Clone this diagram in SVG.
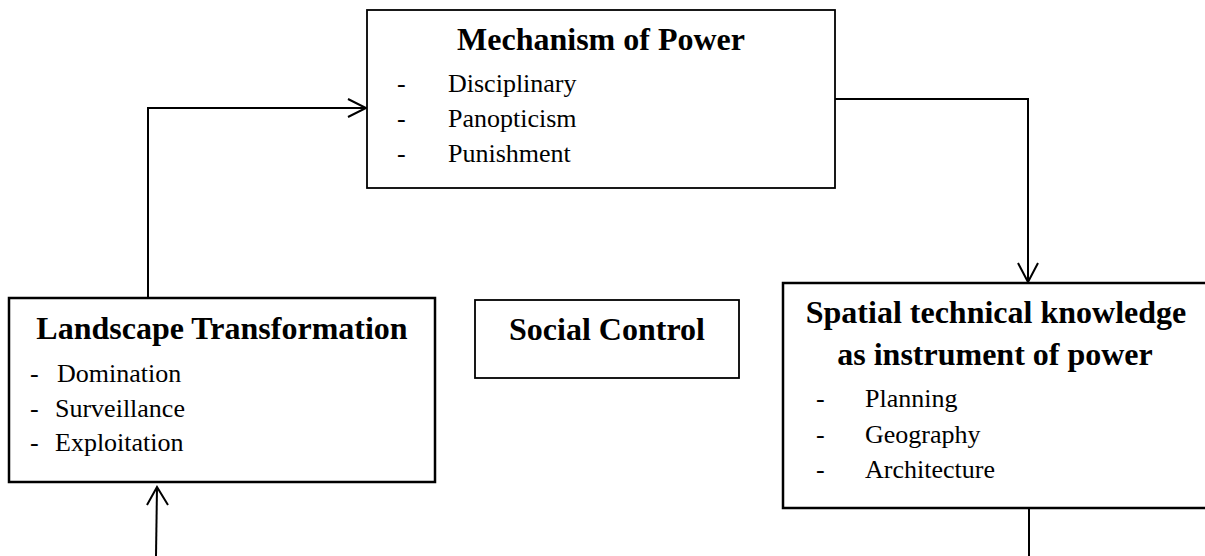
<svg xmlns="http://www.w3.org/2000/svg" width="1205" height="556" viewBox="0 0 1205 556">
<style>
.box{fill:#fff;stroke:#000;stroke-width:2}
.thick{stroke-width:2.5}
.title{font-family:"Liberation Serif","Times New Roman",serif;font-weight:bold;font-size:32px;fill:#000}
.item{font-family:"Liberation Serif","Times New Roman",serif;font-size:26px;fill:#000}
.conn{fill:none;stroke:#000;stroke-width:2}
</style>
<rect width="1205" height="556" fill="#fff"/>
<g id="connectors">
<polyline class="conn" points="148,298 148,108 366,108"/>
<polyline class="conn" points="348,99 366,108 348,117"/>
<polyline class="conn" points="835,99 1028,99 1028,282"/>
<polyline class="conn" points="1018,263 1028,282 1038,263"/>
<line class="conn" x1="156" y1="556" x2="157" y2="487"/>
<polyline class="conn" points="147,505 157,487 168,505"/>
<line class="conn" x1="1029" y1="508" x2="1029" y2="556"/>
</g>
<g id="mechanism">
<rect class="box" x="367" y="10" width="468" height="178" style="stroke-width:1.8"/>
<text class="title" x="601" y="50" text-anchor="middle">Mechanism of Power</text>
<text class="item" x="397" y="92">-</text><text class="item" x="448" y="92">Disciplinary</text>
<text class="item" x="397" y="127">-</text><text class="item" x="448" y="127">Panopticism</text>
<text class="item" x="397" y="162">-</text><text class="item" x="448" y="162">Punishment</text>
</g>
<g id="landscape">
<rect class="box thick" x="9" y="298" width="426" height="184"/>
<text class="title" x="222" y="339" text-anchor="middle">Landscape Transformation</text>
<text class="item" x="30" y="382">-</text><text class="item" x="57" y="382">Domination</text>
<text class="item" x="30" y="417">-</text><text class="item" x="55" y="417">Surveillance</text>
<text class="item" x="30" y="451">-</text><text class="item" x="55" y="451">Exploitation</text>
</g>
<g id="social">
<rect class="box" x="475" y="300" width="264" height="78" style="stroke-width:1.8"/>
<text class="title" x="607" y="340" text-anchor="middle">Social Control</text>
</g>
<g id="spatial">
<rect class="box thick" x="783" y="283" width="440" height="225"/>
<text class="title" x="996" y="323" text-anchor="middle">Spatial technical knowledge</text>
<text class="title" x="995" y="365" text-anchor="middle">as instrument of power</text>
<text class="item" x="816" y="407">-</text><text class="item" x="865" y="407">Planning</text>
<text class="item" x="816" y="443">-</text><text class="item" x="865" y="443">Geography</text>
<text class="item" x="816" y="478">-</text><text class="item" x="865" y="478">Architecture</text>
</g>
</svg>
